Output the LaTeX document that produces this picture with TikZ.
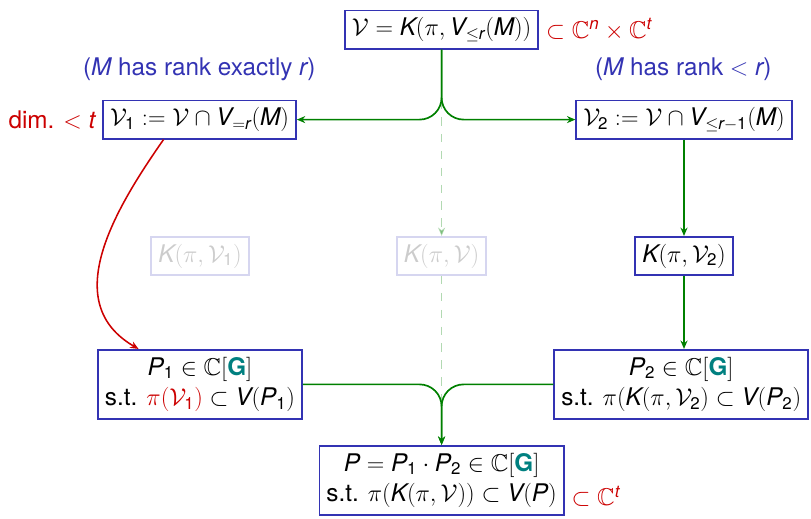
\documentclass[tikz,border=0pt]{standalone}
\usepackage{amsmath}
\usepackage{amssymb}
\usepackage{xcolor}
\usepackage[no-math]{fontspec}
\setmainfont{TeX Gyre Heros}
\newfontfamily\heros[NFSSFamily=heros]{TeX Gyre Heros}
\DeclareSymbolFont{sfit}{TU}{heros}{m}{it}
\DeclareSymbolFont{sfup}{TU}{heros}{m}{n}
\DeclareMathSymbol{K}{\mathalpha}{sfit}{`K}
\DeclareMathSymbol{M}{\mathalpha}{sfit}{`M}
\DeclareMathSymbol{P}{\mathalpha}{sfit}{`P}
\DeclareMathSymbol{V}{\mathalpha}{sfit}{`V}
\DeclareMathSymbol{n}{\mathalpha}{sfit}{`n}
\DeclareMathSymbol{r}{\mathalpha}{sfit}{`r}
\DeclareMathSymbol{t}{\mathalpha}{sfit}{`t}
\DeclareMathSymbol{1}{\mathalpha}{sfup}{`1}
\DeclareMathSymbol{2}{\mathalpha}{sfup}{`2}
\usetikzlibrary{arrows.meta,positioning}
\definecolor{struct}{RGB}{51,51,179}
\definecolor{flowgreen}{RGB}{0,128,0}
\definecolor{condred}{RGB}{204,0,0}
\definecolor{gteal}{RGB}{0,128,128}
\newcommand{\CG}{\mathbb{C}[\textcolor{gteal}{\mbox{\bfseries G}}]}

\begin{document}
\begin{tikzpicture}[
  font=\fontsize{17.28}{22}\selectfont,
  box/.style={draw=struct,line width=1.2pt,inner xsep=5pt,inner ysep=5pt,align=center},
  ghost/.style={box,opacity=0.2},
  flow/.style={draw=flowgreen,line width=1.2pt,-{Stealth[length=6pt,width=5pt]}},
  ghostflow/.style={flow,opacity=0.3,dashed,dash pattern=on 6pt off 6pt},
  turn/.style={rounded corners=0.55cm},
  link/.style={draw=condred,line width=1.1pt,-{Stealth[length=6pt,width=5pt]}},
  note/.style={text=struct},
  cond/.style={text=condred}
]
  \useasboundingbox (0,0) rectangle (20.275,12.95);
  % nodes
  \node[box] (top) at (11.04,12.21) {$\mathcal{V} = K(\pi, V_{\leq r}(M))$};
  \node[cond,right=0.05cm of top] (ctop) {$\subset \mathbb{C}^n \times \mathbb{C}^t$};
  \node[note] (rk1) at (4.98,11.21) {($M$ has rank exactly $r$)};
  \node[note] (rk2) at (17.08,11.21) {($M$ has rank $< r$)};
  \node[box] (v1) at (4.99,9.96) {$\mathcal{V}_1 := \mathcal{V} \cap V_{=r}(M)$};
  \node[cond,left=0.05cm of v1] (dim) {dim. $< t$};
  \node[box] (v2) at (17.1,9.96) {$\mathcal{V}_2 := \mathcal{V} \cap V_{\leq r-1}(M)$};
  \node[ghost] (kv1) at (5.0,6.55) {$K(\pi, \mathcal{V}_1)$};
  \node[ghost] (kv) at (11.04,6.55) {$K(\pi, \mathcal{V})$};
  \node[box] (kv2) at (17.1,6.55) {$K(\pi, \mathcal{V}_2)$};
  \node[box] (p1) at (5.0,3.34) {$P_1 \in \CG$\\ s.t. $\textcolor{condred}{\pi(\mathcal{V}_1)} \subset V(P_1)$};
  \node[box] (p2) at (17.03,3.34) {$P_2 \in \CG$\\ s.t. $\pi(K(\pi, \mathcal{V}_2) \subset V(P_2)$};
  \node[box] (p) at (11.04,0.94) {$P = P_1 \cdot P_2 \in \CG$\\ s.t. $\pi(K(\pi, \mathcal{V})) \subset V(P)$};
  \node[cond,anchor=west] (cp) at ([xshift=0.05cm,yshift=-0.4cm]p.east) {$\subset \mathbb{C}^t$};
  % connectors
  \draw[ghostflow] (top) -- (kv);
  \draw[ghostflow] (kv) -- (p);
  \draw[flow,turn] (top.south) |- (v1.east);
  \draw[flow,turn] (top.south) |- (v2.west);
  \draw[flow] (v2) -- (kv2);
  \draw[flow] (kv2.south) -- (kv2.south |- p2.north);
  \draw[flow,turn] (p1.east) -| (p.north);
  \draw[flow,turn] (p2.west) -| (p.north);
  \draw[link] (v1.-151) to[out=-125,in=150,looseness=1.1] (p1.150);
\end{tikzpicture}
\end{document}
